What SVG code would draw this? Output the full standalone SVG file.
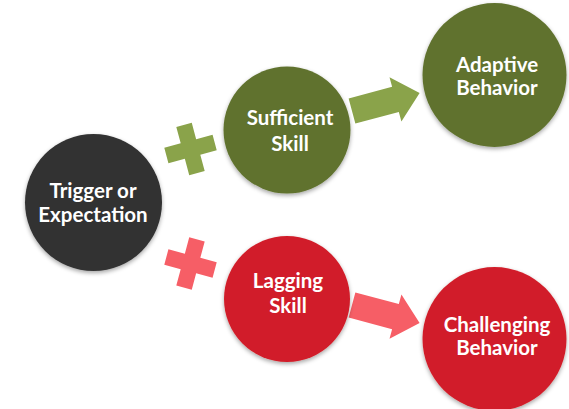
<svg xmlns="http://www.w3.org/2000/svg" width="569" height="409" viewBox="0 0 569 409">
<defs>
<filter id="sh" x="-20%" y="-20%" width="140%" height="140%">
<feDropShadow dx="0" dy="2" stdDeviation="2" flood-color="#000" flood-opacity="0.35"/>
</filter>
<path id="plus" d="M-8,-25 H8 V-8 H25 V8 H8 V25 H-8 V8 H-25 V-8 H-8 Z"/>
<path id="arrow" d="M0,-13 H45 V-23 L70,0 L45,23 V13 H0 Z"/>
</defs>
<style>
.lbl{font-family:Lato,"Liberation Sans",sans-serif;font-weight:bold;font-size:20.5px;fill:#fff;text-anchor:middle}
.dark{fill:#323232}
.olive{fill:#60722f}
.red{fill:#d11f29}
.lg{fill:#8aa34a}
.pk{fill:#f65e66}
</style>
<rect width="569" height="409" fill="#fff"/>
<g id="connectors">
<use href="#plus" class="lg" transform="translate(190.5,149) rotate(-15)"/>
<use href="#plus" class="pk" transform="translate(190.5,263.5) rotate(15)"/>
<use href="#arrow" class="lg" transform="translate(352,111) rotate(-15)"/>
<use href="#arrow" class="pk" transform="translate(352,305) rotate(15)"/>
</g>
<g id="trigger">
<circle cx="93.5" cy="202.5" r="68.5" class="dark" filter="url(#sh)"/>
<text class="lbl" x="93" y="198">Trigger or</text>
<text class="lbl" x="93" y="222">Expectation</text>
</g>
<g id="sufficient">
<circle cx="287" cy="130" r="63.5" class="olive" filter="url(#sh)"/>
<text class="lbl" x="290" y="125">Sufficient</text>
<text class="lbl" x="290" y="151">Skill</text>
</g>
<g id="lagging">
<circle cx="287" cy="299" r="63" class="red" filter="url(#sh)"/>
<text class="lbl" x="288" y="288">Lagging</text>
<text class="lbl" x="288" y="313">Skill</text>
</g>
<g id="adaptive">
<circle cx="494.5" cy="75" r="72" class="olive" filter="url(#sh)"/>
<text class="lbl" x="497" y="72">Adaptive</text>
<text class="lbl" x="497" y="95">Behavior</text>
</g>
<g id="challenging">
<circle cx="494.5" cy="339" r="72" class="red" filter="url(#sh)"/>
<text class="lbl" x="497" y="332">Challenging</text>
<text class="lbl" x="497" y="355">Behavior</text>
</g>
</svg>
